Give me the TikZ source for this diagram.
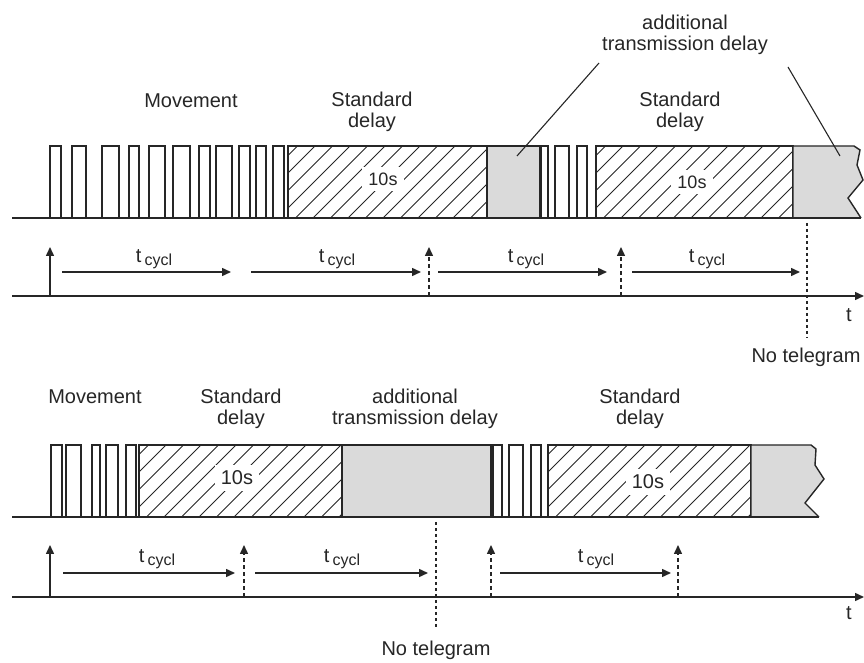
\documentclass[tikz,border=0pt]{standalone}
\usepackage{fontspec}
\setmainfont{Liberation Sans}
\usetikzlibrary{arrows.meta}
\definecolor{ink}{HTML}{262626}
\definecolor{greyfill}{HTML}{DADADA}
\tikzset{
  pulse/.style={draw=ink,line width=0.7pt},
  greyblk/.style={draw=ink,line width=0.7pt,fill=greyfill},
  hatch/.style={draw=ink,line width=0.45pt},
  lead/.style={draw=ink,line width=0.55pt},
  ar/.style={-{Triangle[length=4.5pt,width=4pt]},line width=0.75pt,draw=ink},
  ardash/.style={ar,dash pattern=on 2pt off 1.5pt},
  nosig/.style={draw=ink,line width=0.55pt,dash pattern=on 1.5pt off 1.5pt},
  lbl/.style={font=\fontsize{10}{10.5}\selectfont,align=center,inner sep=0pt,text=ink},
  tenlbl/.style={fill=white,inner sep=3pt,text=ink},
  tc/.style={lbl,anchor=base},
}
\newcommand{\hatchbox}[4]{%
  \begin{scope}
    \clip (#1,#2) rectangle (#3,#4);
    \foreach \k in {-80,-62.5,...,220}
      \draw[hatch] (#1+\k,#2) -- ++(80,-80);
  \end{scope}
  \draw[pulse] (#1,#2) rectangle (#3,#4);}
\newcommand{\tcycl}{t\,\raisebox{-1.5pt}{\fontsize{8}{9}\selectfont cycl}}

\begin{document}
\begin{tikzpicture}[x=0.5pt,y=-0.5pt]
  \useasboundingbox (0,0) rectangle (864,663);
  % upper chart
  \hatchbox{288}{218}{487}{146}
  \hatchbox{596}{218}{793}{146}
  \draw[greyblk] (487,218) rectangle (540,146);
  \draw[greyblk] (793,218) -- (793,146) -- (854,146) -- (860,150) -- (857,165)
    -- (863,180) -- (848,198) -- (861,218);
  \foreach \a/\b in {50/61,72/86,102/119,129/139,149/165,173/190,199/210,216/232,
      239/250,256/266,273/284,541/548,555/569,577/587}
    \draw[pulse] (\a,218) rectangle (\b,146);
  \draw[pulse] (12,218) -- (861,218);
  \node[tenlbl,font=\fontsize{9}{9}\selectfont] (tenA) at (383,179) {10s};
  \node[tenlbl,font=\fontsize{9}{9}\selectfont] (tenB) at (692,182) {10s};
  \node[lbl] (movA) at (191,101) {Movement};
  \node[lbl] (stdA) at (372,112) {Standard\\delay};
  \node[lbl] (stdB) at (680,112) {Standard\\delay};
  \node[lbl] (addA) at (685,35) {additional\\transmission delay};
  \coordinate (addAl) at (599,63);
  \coordinate (addAr) at (788,67);
  \coordinate (greyA) at (517,156);
  \coordinate (greyB) at (840,156);
  \draw[lead] (addAl) -- (greyA);
  \draw[lead] (addAr) -- (greyB);

  \draw[ar] (12,296) -- (864,296);
  \node[lbl] (tA) at (849,315) {t};
  \draw[ar] (50,296) -- (50,247);
  \foreach \x in {429,621} \draw[ardash] (\x,296) -- (\x,247);
  \foreach \a/\b/\m in {62/231/154,251/421/337,438/607/526,632/800/707} {
    \draw[ar] (\a,272) -- (\b,272);
    \node[tc] at (\m,263) {\tcycl};
  }
  \draw[nosig] (807,223) -- (807,338);
  \node[lbl] (noA) at (806,357) {No telegram};

  % lower chart
  \hatchbox{139}{517}{342}{445}
  \hatchbox{548}{517}{751}{445}
  \draw[greyblk] (342,517) rectangle (491,445);
  \draw[greyblk] (751,517) -- (751,445) -- (811,445) -- (816,449) -- (815,465)
    -- (824,479) -- (805,503) -- (819,517);
  \foreach \a/\b in {51/62,66/81,92/100,106/118,126/136,493/502,509/523,531/541}
    \draw[pulse] (\a,517) rectangle (\b,445);
  \draw[pulse] (12,517) -- (819,517);
  \node[tenlbl,font=\fontsize{10}{10}\selectfont] (tenC) at (237,478) {10s};
  \node[tenlbl,font=\fontsize{10}{10}\selectfont] (tenD) at (648,482) {10s};
  \node[lbl] (movB) at (95,397) {Movement};
  \node[lbl] (stdC) at (241,409) {Standard\\delay};
  \node[lbl] (addB) at (415,409) {additional\\transmission delay};
  \node[lbl] (stdD) at (640,409) {Standard\\delay};

  \draw[ar] (12,597) -- (864,597);
  \node[lbl] (tB) at (849,613) {t};
  \draw[ar] (50,597) -- (50,545);
  \foreach \x in {244,491,678} \draw[ardash] (\x,597) -- (\x,545);
  \foreach \a/\b/\m in {63/235/157,255/428/342,500/671/596} {
    \draw[ar] (\a,573) -- (\b,573);
    \node[tc] at (\m,563) {\tcycl};
  }
  \draw[nosig] (436,522) -- (436,630);
  \node[lbl] (noB) at (436,650) {No telegram};
\end{tikzpicture}
\end{document}
